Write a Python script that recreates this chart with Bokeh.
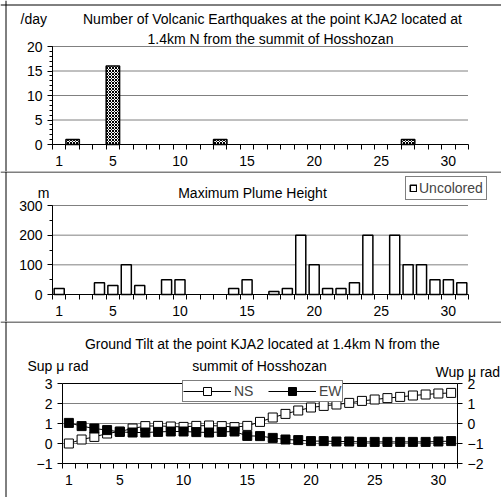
from bokeh.plotting import figure
from bokeh.layouts import column
from bokeh.models import Range1d, LinearAxis, FixedTicker, Label, Legend, LegendItem, Span
from bokeh.embed import file_html
from bokeh.resources import INLINE

# ---------------- data ----------------
days = list(range(1, 32))
x_tick_labels = [1, 5, 10, 15, 20, 25, 30]

quake_days = [2, 5, 13, 27]
quake_counts = [1, 16, 1, 1]

plume_days = [1, 4, 5, 6, 7, 9, 10, 14, 15, 17, 18, 19, 20, 21, 22, 23, 24, 26, 27, 28, 29, 30, 31]
plume_heights = [20, 40, 30, 100, 30, 50, 50, 20, 50, 10, 20, 200, 100, 20, 20, 40, 200, 200, 100, 100, 50, 50, 40]

tilt_ns = [0.0, 0.2, 0.33, 0.5, 0.6, 0.75, 0.87, 0.88, 0.85, 0.83, 0.88, 0.9, 0.87, 0.82, 0.88,
           1.08, 1.3, 1.48, 1.65, 1.8, 1.88, 1.95, 2.03, 2.13, 2.2, 2.27, 2.33, 2.4, 2.45, 2.5, 2.53]
tilt_ew = [0.03, -0.13, -0.25, -0.33, -0.42, -0.45, -0.45, -0.42, -0.4, -0.4, -0.43, -0.45, -0.42, -0.4, -0.62,
           -0.63, -0.72, -0.8, -0.83, -0.88, -0.88, -0.9, -0.9, -0.92, -0.92, -0.92, -0.92, -0.92, -0.92, -0.9, -0.88]

FONT = "Liberation Sans"
W = 501
D0, D1 = 0.5, 31.5
bounds = [d + 0.5 for d in range(0, 32)]


def span_range(v0, p0, v1, p1, lo_px, hi_px):
    """range whose values v0/v1 fall on pixel p0/p1 of a canvas spanning lo_px..hi_px"""
    s = (p1 - p0) / (v1 - v0)
    return (v0 + (lo_px - p0) / s, v0 + (hi_px - p0) / s)


def px_to_val(rng, lo_px, hi_px, px):
    return rng[0] + (px - lo_px) * (rng[1] - rng[0]) / (hi_px - lo_px)


def style_axis(ax):
    ax.axis_line_color = "black"
    ax.major_label_text_font = FONT
    ax.major_label_text_font_size = "14px"
    ax.major_label_text_color = "black"
    ax.major_tick_line_color = "black"
    ax.minor_tick_line_color = "black"
    ax.major_tick_in = 0
    ax.minor_tick_in = 0


def make_fig(top_px, bot_px, xr, yr, ymin, ymax, yticks, yminor, border_row):
    p = figure(width=W, height=bot_px - top_px, x_range=Range1d(*xr), y_range=Range1d(*yr), title=None,
               output_backend="svg", toolbar_location=None,
               min_border=0, min_border_left=0, min_border_right=0, min_border_top=0, min_border_bottom=0)
    p.outline_line_color = None
    p.background_fill_color = "white"
    p.border_fill_color = "white"
    p.grid.visible = False
    xa = p.xaxis[0]
    style_axis(xa)
    xa.fixed_location = ymin
    xa.bounds = (D0, D1)
    xa.ticker = FixedTicker(ticks=x_tick_labels, minor_ticks=bounds)
    xa.major_tick_line_color = None
    xa.major_tick_out = 5
    xa.minor_tick_out = 5
    xa.major_label_standoff = 6
    ya = p.yaxis[0]
    style_axis(ya)
    ya.fixed_location = D0
    ya.bounds = (ymin, ymax)
    ya.ticker = FixedTicker(ticks=yticks, minor_ticks=yminor)
    ya.major_tick_out = 5
    ya.minor_tick_out = 3
    ya.major_label_standoff = 5
    # panel border lines: left edge and top edge
    p.add_layout(Span(location=px_to_val(xr, 0, W, 5.5), dimension="height",
                      line_color="black", line_width=1))
    p.add_layout(Span(location=px_to_val(yr, bot_px, top_px, border_row + 0.5), dimension="width",
                      line_color="black", line_width=1))
    return p


def grid(p, vals, dash="1 1"):
    p.segment(x0=[D0] * len(vals), x1=[D1] * len(vals), y0=vals, y1=vals,
              line_color="black", line_width=1, line_dash=dash)


def txt(p, x, y, s, align="left", size="14px"):
    p.add_layout(Label(x=x, y=y, x_units="screen", y_units="screen", text=s,
                       text_font=FONT, text_font_size=size, text_align=align,
                       text_baseline="middle", text_color="black"))


# ---------------- panel 1 : rows 0..171 ----------------
T1, B1 = 0, 171
xr12 = span_range(D0, 52, D1, 468, 0, W)
yr1 = span_range(0, 144, 20, 46, B1, T1)
p1 = make_fig(T1, B1, xr12, yr1, 0, 20, [0, 5, 10, 15, 20], list(range(0, 21)), 4)
grid(p1, [5, 10, 15, 20])
p1.vbar(x=quake_days, top=quake_counts, width=1.0, bottom=0,
        fill_color="white", line_color="black", line_width=1.5,
        hatch_pattern="diagonal_cross", hatch_color="black", hatch_scale=3, hatch_weight=1)
txt(p1, 20, B1 - 18, "/day")
txt(p1, 272, B1 - 18, "Number of Volcanic Earthquakes at the point KJA2 located at", "center")
txt(p1, 270, B1 - 38, "1.4km N from the summit of Hosshozan", "center")

# ---------------- panel 2 : rows 171..321 ----------------
T2, B2 = 171, 321
yr2 = span_range(0, 294, 300, 205, B2, T2)
p2 = make_fig(T2, B2, xr12, yr2, 0, 300, [0, 100, 200, 300], [50, 150, 250], T2)
grid(p2, [100, 200, 300])
bars2 = p2.vbar(x=plume_days, top=plume_heights, width=0.75, bottom=0,
                fill_color="white", line_color="black", line_width=1.5)
txt(p2, 43, B2 - 192, "m", "center")
txt(p2, 252, B2 - 192, "Maximum Plume Height", "center")
leg2 = Legend(items=[LegendItem(label="Uncolored", renderers=[bars2])], location=(405, B2 - 200),
              glyph_width=8, glyph_height=8, label_height=10, padding=3, margin=0, label_standoff=2,
              label_text_font=FONT, label_text_font_size="14px",
              border_line_color="black", border_line_width=1, background_fill_alpha=1)
p2.add_layout(leg2, "center")

# ---------------- panel 3 : rows 321..497 ----------------
T3, B3 = 321, 497
xr3 = span_range(D0, 62, D1, 457, 0, W)
yr3 = span_range(-1, 463, 3, 383, B3, T3)
p3 = make_fig(T3, B3, xr3, yr3, -1, 3, [-1, 0, 1, 2, 3], [], T3)
p3.extra_y_ranges = {"ew": Range1d(yr3[0] - 1, yr3[1] - 1)}
ra = LinearAxis(y_range_name="ew", ticker=FixedTicker(ticks=[-2, -1, 0, 1, 2]))
style_axis(ra)
ra.fixed_location = D1
ra.bounds = (-2, 2)
ra.major_tick_out = 5
ra.major_label_standoff = 5
p3.add_layout(ra, "right")
grid(p3, [0, 1, 2])
grid(p3, [3], dash="solid")
ns_l = p3.line(days, tilt_ns, line_color="black", line_width=1)
ns_s = p3.scatter(days, tilt_ns, marker="square", size=9, fill_color="white", line_color="black", line_width=1)
ew_l = p3.line(days, tilt_ew, line_color="black", line_width=1, y_range_name="ew")
ew_s = p3.scatter(days, tilt_ew, marker="square", size=9, fill_color="black", line_color="black",
                  line_width=1, y_range_name="ew")
txt(p3, 262, B3 - 343, "Ground Tilt at the point KJA2 located at 1.4km N from the", "center")
txt(p3, 259, B3 - 365, "summit of Hosshozan", "center")
txt(p3, 27, B3 - 365, "Sup μ rad")
txt(p3, 435, B3 - 371, "Wup μ rad")
leg3 = Legend(items=[LegendItem(label="NS", renderers=[ns_l, ns_s]),
                     LegendItem(label="EW", renderers=[ew_l, ew_s])],
              location=(182, B3 - 402), orientation="horizontal",
              glyph_width=48, glyph_height=20, label_height=20, label_width=22, padding=0, margin=0,
              spacing=12, label_standoff=3, label_text_font=FONT, label_text_font_size="14px",
              border_line_color="black", border_line_width=1, background_fill_alpha=1)
p3.add_layout(leg3, "center")

layout = column(p1, p2, p3, spacing=0)
open("out.html", "w").write(file_html(layout, INLINE))
